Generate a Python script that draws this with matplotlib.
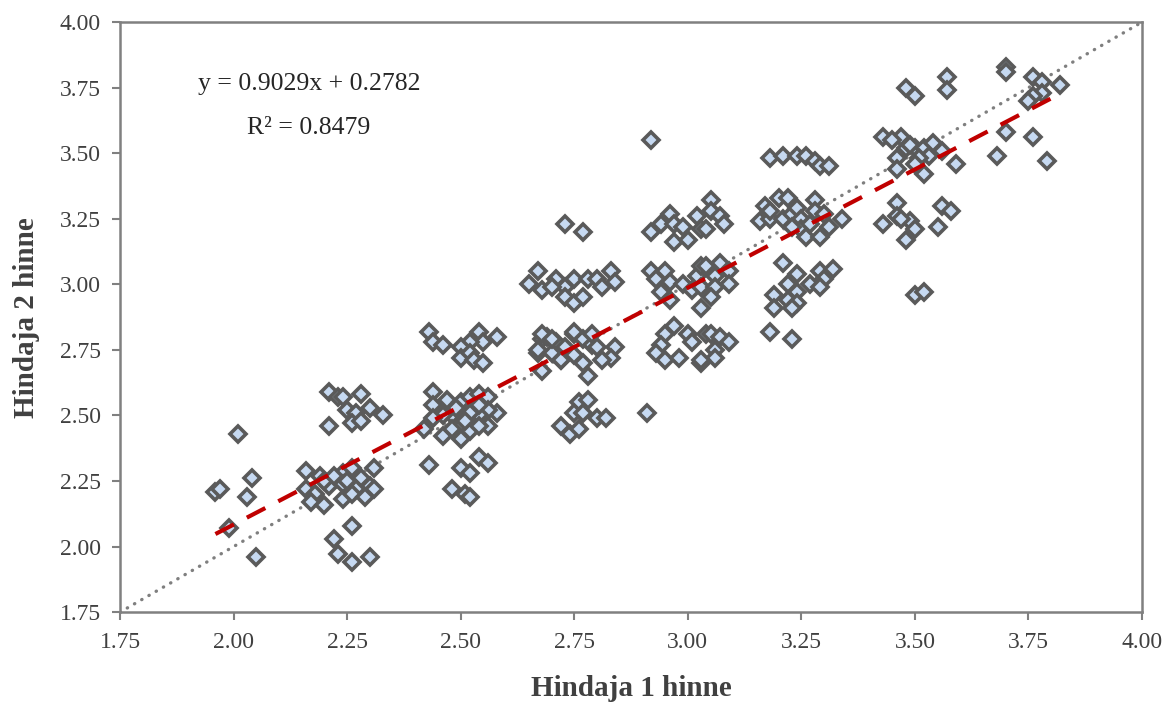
import numpy as np
import matplotlib
matplotlib.use("Agg")
from matplotlib import pyplot as plt

plt.rcParams['font.family'] = ['Liberation Serif', 'DejaVu Serif']

### Scores: rater 1 (x) and rater 2 (y)
grp_a_x = [1.96, 1.97, 1.99, 2.01, 2.03, 2.04, 2.05]
grp_a_y = [2.21, 2.22, 2.07, 2.43, 2.19, 2.26, 1.96]

grp_b_x = [2.21, 2.23, 2.24, 2.28, 2.25, 2.27, 2.30, 2.33, 2.21, 2.26, 2.28,
           2.16, 2.19, 2.24, 2.26, 2.31, 2.28, 2.30, 2.21, 2.24, 2.27, 2.31,
           2.16, 2.18, 2.17, 2.20, 2.24, 2.26, 2.29, 2.20, 2.22, 2.25,
           2.26, 2.22, 2.23, 2.26, 2.30]
grp_b_y = [2.59, 2.57, 2.57, 2.58, 2.52, 2.51, 2.53, 2.50, 2.46, 2.47, 2.48,
           2.29, 2.27, 2.28, 2.30, 2.30, 2.26, 2.23, 2.23, 2.24, 2.22, 2.22,
           2.22, 2.20, 2.17, 2.16, 2.18, 2.20, 2.19, 2.25, 2.27, 2.25,
           2.08, 2.03, 1.97, 1.94, 1.96]

grp_c_x = [2.43, 2.44, 2.46, 2.54, 2.58, 2.55, 2.52, 2.50, 2.50, 2.52, 2.53, 2.55,
           2.44, 2.44, 2.47, 2.50, 2.52, 2.54, 2.56, 2.58, 2.56, 2.54, 2.52, 2.50,
           2.48, 2.46, 2.44, 2.42, 2.46, 2.50, 2.52, 2.56, 2.54, 2.48, 2.51, 2.54,
           2.49, 2.43, 2.54, 2.56, 2.50, 2.52, 2.48, 2.51, 2.52]
grp_c_y = [2.82, 2.78, 2.77, 2.82, 2.80, 2.78, 2.78, 2.76, 2.72, 2.74, 2.71, 2.70,
           2.59, 2.54, 2.56, 2.55, 2.57, 2.58, 2.57, 2.51, 2.52, 2.50, 2.51, 2.46,
           2.50, 2.50, 2.49, 2.45, 2.42, 2.41, 2.44, 2.46, 2.46, 2.45, 2.48, 2.54,
           2.53, 2.31, 2.34, 2.32, 2.30, 2.28, 2.22, 2.20, 2.19]

grp_d_x = [2.73, 2.77,
           2.67, 2.65, 2.68, 2.71, 2.73, 2.75, 2.78, 2.80, 2.83, 2.84, 2.81, 2.73,
           2.75, 2.77, 2.70,
           2.68, 2.69, 2.71, 2.73, 2.75, 2.77, 2.79, 2.67, 2.70, 2.72, 2.75, 2.77,
           2.78, 2.68, 2.68, 2.70, 2.75, 2.79, 2.80, 2.84, 2.83, 2.81, 2.72, 2.67,
           2.76, 2.78, 2.75, 2.77, 2.80, 2.82, 2.72, 2.74, 2.76, 2.91]
grp_d_y = [3.23, 3.20,
           3.05, 3.00, 2.98, 3.02, 2.99, 3.02, 3.02, 3.02, 3.05, 3.01, 2.99, 2.95,
           2.93, 2.95, 2.99,
           2.79, 2.80, 2.78, 2.76, 2.81, 2.79, 2.77, 2.74, 2.74, 2.71, 2.73, 2.70,
           2.65, 2.67, 2.81, 2.79, 2.82, 2.81, 2.76, 2.76, 2.72, 2.71, 2.71, 2.75,
           2.55, 2.56, 2.51, 2.51, 2.49, 2.49, 2.46, 2.43, 2.45, 2.51]

grp_e_x = [2.92, 2.96, 2.94, 2.97, 2.99, 2.92, 2.97, 3.00, 3.02, 3.03, 3.05, 3.05,
           3.07, 3.04, 3.08,
           2.92, 2.95, 2.93, 2.96, 2.94, 2.96, 2.99, 3.02, 3.03, 3.01, 3.03, 3.03,
           3.04, 3.07, 3.09, 3.06, 3.09, 3.06, 3.05,
           2.97, 2.95, 2.94, 2.93, 2.95, 2.98, 3.00, 3.01, 3.03, 3.04, 3.05, 3.07,
           3.09, 3.06, 3.06, 3.03]
grp_e_y = [3.55, 3.27, 3.23, 3.23, 3.22, 3.20, 3.16, 3.17, 3.26, 3.21, 3.32, 3.28,
           3.26, 3.21, 3.23,
           3.05, 3.05, 3.02, 3.01, 2.97, 2.94, 3.00, 3.03, 3.07, 2.98, 2.99, 2.91,
           3.07, 3.08, 3.05, 3.03, 3.00, 2.99, 2.95,
           2.84, 2.81, 2.77, 2.74, 2.71, 2.72, 2.81, 2.78, 2.70, 2.81, 2.81, 2.80,
           2.78, 2.75, 2.72, 2.71]

grp_f_x = [3.18, 3.21, 3.24, 3.26, 3.28, 3.29, 3.31,
           3.20, 3.22, 3.17, 3.16, 3.18, 3.18, 3.21, 3.23, 3.24, 3.25, 3.25, 3.26,
           3.27, 3.28, 3.28, 3.30, 3.31, 3.29, 3.34, 3.23,
           3.21, 3.24, 3.29, 3.32, 3.27, 3.30, 3.29, 3.22, 3.24, 3.19, 3.22, 3.24,
           3.19, 3.23, 3.18, 3.23]
grp_f_y = [3.48, 3.49, 3.49, 3.49, 3.47, 3.45, 3.45,
           3.33, 3.33, 3.30, 3.24, 3.25, 3.28, 3.25, 3.27, 3.29, 3.25, 3.21, 3.18,
           3.23, 3.32, 3.28, 3.27, 3.22, 3.18, 3.25, 3.22,
           3.08, 3.04, 3.05, 3.06, 3.00, 3.02, 2.99, 3.00, 2.97, 2.96, 2.94, 2.93,
           2.91, 2.91, 2.82, 2.79]

grp_g_x = [3.57, 3.57, 3.48, 3.50, 3.70, 3.70, 3.76, 3.78, 3.78, 3.76, 3.75, 3.82,
           3.70, 3.76, 3.68, 3.79,
           3.43, 3.47, 3.48, 3.50, 3.52, 3.54, 3.56, 3.53, 3.51, 3.46, 3.46, 3.50,
           3.52, 3.59, 3.49, 3.45,
           3.46, 3.46, 3.43, 3.49, 3.47, 3.50, 3.48, 3.56, 3.58, 3.55, 3.50, 3.52]
grp_g_y = [3.79, 3.74, 3.75, 3.72, 3.83, 3.81, 3.79, 3.77, 3.73, 3.72, 3.70, 3.76,
           3.58, 3.56, 3.49, 3.47,
           3.56, 3.56, 3.52, 3.52, 3.52, 3.54, 3.51, 3.49, 3.48, 3.48, 3.44, 3.46,
           3.42, 3.46, 3.53, 3.55,
           3.31, 3.26, 3.23, 3.24, 3.25, 3.21, 3.17, 3.30, 3.28, 3.22, 2.96, 2.97]

x = np.array(grp_a_x + grp_b_x + grp_c_x + grp_d_x + grp_e_x + grp_f_x + grp_g_x)
y = np.array(grp_a_y + grp_b_y + grp_c_y + grp_d_y + grp_e_y + grp_f_y + grp_g_y)

# trend line as printed on the chart
slope = 0.9029
icept = 0.2782
r2 = 0.8479

ticks = [1.75, 2.00, 2.25, 2.50, 2.75, 3.00, 3.25, 3.50, 3.75, 4.00]

fig = plt.figure(figsize=(11.7, 7.02), dpi=100)
ax = fig.add_axes([0.1026, 0.128, 0.8735, 0.8405])

# y = x reference
ax.plot([1.75, 4.0], [1.75, 4.0], color='#7f7f7f', lw=2.4,
        dashes=(0.1, 2.4), dash_capstyle='round', zorder=1)

ax.plot(x, y, 'D', ms=8, mfc='#c6d9f1', mec='#5a5a5a', mew=2.6,
        ls='none', zorder=2)

xl = np.array([x.min(), x.max()])
ax.plot(xl, slope*xl + icept, '--', color='#c00000', lw=3,
        dashes=(5, 3.5), zorder=3)

ax.text(0.185, 0.895, 'y = %.4fx + %.4f' % (slope, icept), transform=ax.transAxes,
        ha='center', va='center', fontsize=18.5, color='#262626')
ax.text(0.185, 0.820, 'R² = %.4f' % r2, transform=ax.transAxes,
        ha='center', va='center', fontsize=18.5, color='#262626')

ax.set_xlim(1.75, 4.0)
ax.set_ylim(1.75, 4.0)
ax.set_xticks(ticks)
ax.set_yticks(ticks)
ax.set_xticklabels(['%.2f' % t for t in ticks])
ax.set_yticklabels(['%.2f' % t for t in ticks])
ax.tick_params(direction='out', length=6, width=1.5, color='#808080',
               labelsize=17, labelcolor='#404040', pad=8)

for s in ax.spines.values():
    s.set_color('#808080')
    s.set_linewidth(1.8)

ax.set_xlabel('Hindaja 1 hinne', fontsize=21, fontweight='bold',
              color='#404040', labelpad=16)
ax.set_ylabel('Hindaja 2 hinne', fontsize=21, fontweight='bold',
              color='#404040', labelpad=14)

fig.savefig('out.png', dpi=100)
